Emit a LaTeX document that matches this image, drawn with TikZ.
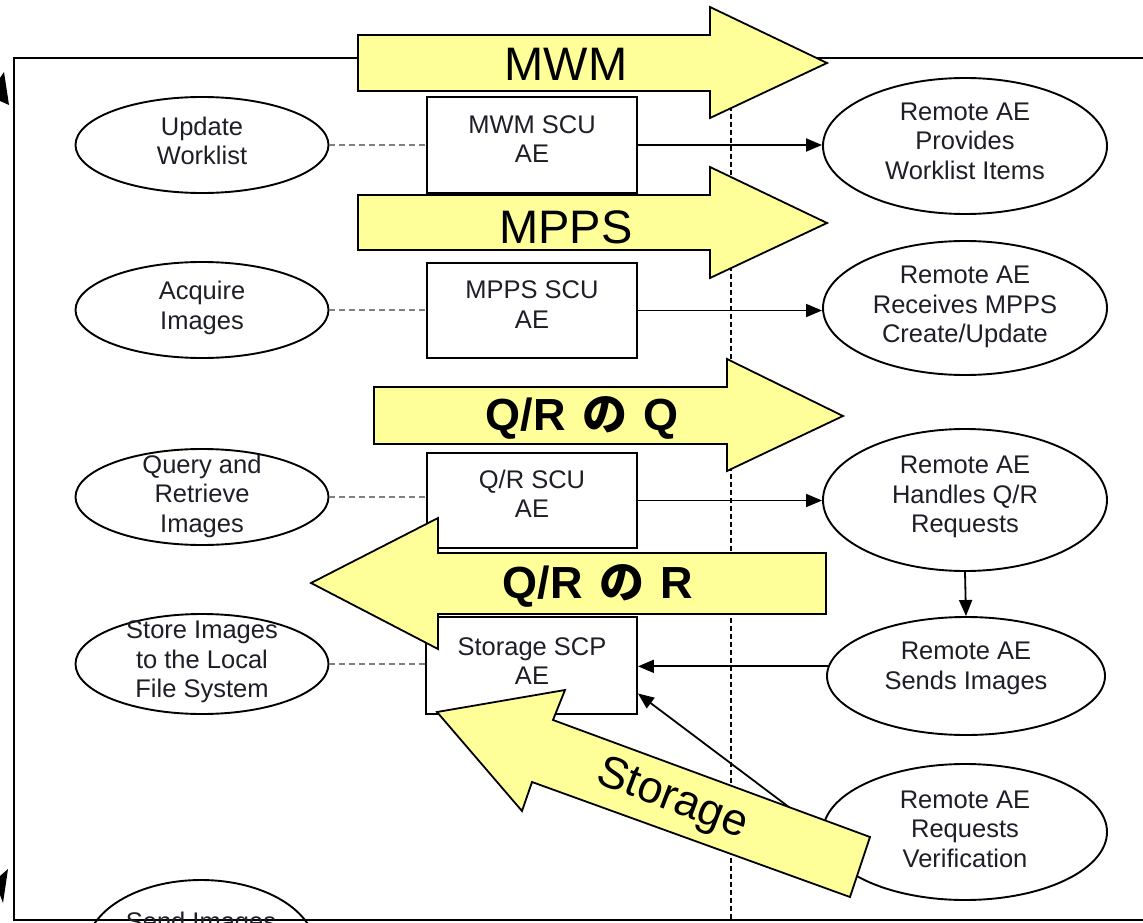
\documentclass[tikz,border=0pt]{standalone}
\usepackage{fontspec}
\setmainfont{Liberation Sans}
\newfontfamily\cjk{Noto Sans CJK JP}
\usetikzlibrary{shapes.geometric,arrows.meta,calc}
\definecolor{ylw}{RGB}{255,255,153}
\definecolor{txt}{RGB}{30,30,40}
\begin{document}
\begin{tikzpicture}[x=1pt,y=-1pt,
  lel/.style={ellipse,draw,line width=1.9pt,minimum width=253pt,minimum height=96pt,inner sep=0pt},
  aebox/.style={draw,line width=1.9pt,minimum width=210pt,minimum height=96pt,inner sep=0pt},
  smalltxt/.style={align=center,font=\fontsize{25.5}{29.5}\selectfont,text=txt,inner sep=0pt},
  conn/.style={line width=1.8pt,-{Triangle[length=16pt,width=13pt]}},
  dashln/.style={line width=1.8pt,dash pattern=on 6pt off 4pt,draw=gray},
  banner/.style={draw,line width=1.8pt,fill=ylw,line join=miter},
  bigtxt/.style={font=\fontsize{47}{50}\selectfont,inner sep=0pt},
  boldtxt/.style={font=\fontsize{45}{48}\selectfont\bfseries,inner sep=0pt},
]
\useasboundingbox (0,0) rectangle (1143,923);
\clip (0,0) rectangle (1143,923);
\fill[white] (0,0) rectangle (1143,923);

% frame and marks
\draw[line width=2pt] (14,58) rectangle (1170,920);
\fill (0,78) -- (4,72) -- (9,105) -- (0,101) -- cycle;
\fill (0,876) -- (8,869) -- (3,903) -- (0,895) -- cycle;
\draw[line width=1.7pt,dash pattern=on 5pt off 3pt] (731,58) -- (731,920);

% left ellipses
\node[lel] (lu) at (202,145) {};
\node[smalltxt] at (202,141) {Update\\Worklist};
\node[lel] (la) at (202,310) {};
\node[smalltxt] at (202,308) {Acquire\\Images};
\node[lel] (lq) at (202,497) {};
\node[smalltxt] at (202,496) {Query and\\Retrieve\\Images};
\node[lel,minimum height=100pt] (ls) at (202,664) {};
\node[smalltxt] at (202,662) {Store Images\\to the Local\\File System};
\node[lel,minimum width=230pt,minimum height=140pt] (lsend) at (201,950) {};
\node[smalltxt,anchor=base] at (201,930.3) {Send Images};

% boxes
\node[aebox] (mwm) at (532,145) {};
\node[smalltxt] at (532,139) {MWM SCU\\AE};
\node[aebox,minimum height=95pt] (mps) at (532,310.5) {};
\node[smalltxt] at (532,304.5) {MPPS SCU\\AE};
\node[aebox,minimum height=95pt] (qr) at (532,500.5) {};
\node[smalltxt] at (532,494) {Q/R SCU\\AE};
\node[aebox,minimum width=211pt,minimum height=97pt] (st) at (531.5,665.5) {};
\node[smalltxt] at (532,661) {Storage SCP\\AE};

% right ellipses
\node[lel,minimum width=284pt,minimum height=136pt] (rpw) at (965,146) {};
\node[smalltxt] at (965,141) {Remote AE\\Provides\\Worklist Items};
\node[lel,minimum width=284pt,minimum height=134pt] (rmp) at (965,308) {};
\node[smalltxt] at (965,307) {Remote AE\\Receives MPPS\\Create/Update};
\node[lel,minimum width=284pt,minimum height=142pt] (rh) at (965,500) {};
\node[smalltxt] at (965,497) {Remote AE\\Handles Q/R\\Requests};
\node[lel,minimum width=278pt,minimum height=118pt] (rsi) at (966,676) {};
\node[smalltxt] at (966,668.5) {Remote AE\\Sends Images};
\node[lel,minimum width=284pt,minimum height=136pt] (rv) at (965,832) {};
\node[smalltxt] at (965,829) {Remote AE\\Requests\\Verification};

% connectors
\draw[dashln] (lu.east) -- (lu.east -| mwm.west);
\draw[dashln] (la.east) -- (la.east -| mps.west);
\draw[dashln] (lq.east) -- (lq.east -| qr.west);
\draw[dashln] (ls.east) -- (ls.east -| st.west);
\draw[conn] (mwm.east) -- (mwm.east -| rpw.west);
\draw[conn] (mps.east) -- (mps.east -| rmp.west);
\draw[conn] (qr.east) -- (qr.east -| rh.west);
\draw[conn] (rh.south) -- (rsi.north);
\draw[conn] (rsi.176) -- (rsi.176 -| st.east);
\draw[conn] (rv.west) -- ($(st.east)+(0,28)$);

% banners
\draw[banner] (358,35) -- (710,35) -- (710,7) -- (827,63) -- (710,118) -- (710,91) -- (358,91) -- cycle;
\node[bigtxt] (tmwm) at (566,64) {MWM};
\draw[banner] (358,195) -- (710,195) -- (710,167) -- (827,223) -- (710,278) -- (710,250) -- (358,250) -- cycle;
\node[bigtxt] (tmpps) at (566,227) {MPPS};
\draw[banner] (374,387) -- (727,387) -- (727,359) -- (843,416) -- (727,471) -- (727,444) -- (374,444) -- cycle;
\node[boldtxt] (tq) at (582,418) {Q/R\hspace{4pt} {\cjk の}\hspace{4pt} Q};
\draw[banner] (826,553) -- (438,553) -- (438,518) -- (311,583) -- (438,649) -- (438,614) -- (826,614) -- cycle;
\node[boldtxt] (tr) at (598,586) {Q/R\hspace{4pt} {\cjk の}\hspace{4pt} R};
\draw[banner] (437,712) -- (565,690) -- (553,720) -- (870,837) -- (850,897) -- (532,782) -- (522,811) -- cycle;
\node[bigtxt,font=\fontsize{45}{50}\selectfont,rotate=-21] (tst) at (672,800) {Storage};
\end{tikzpicture}
\end{document}
